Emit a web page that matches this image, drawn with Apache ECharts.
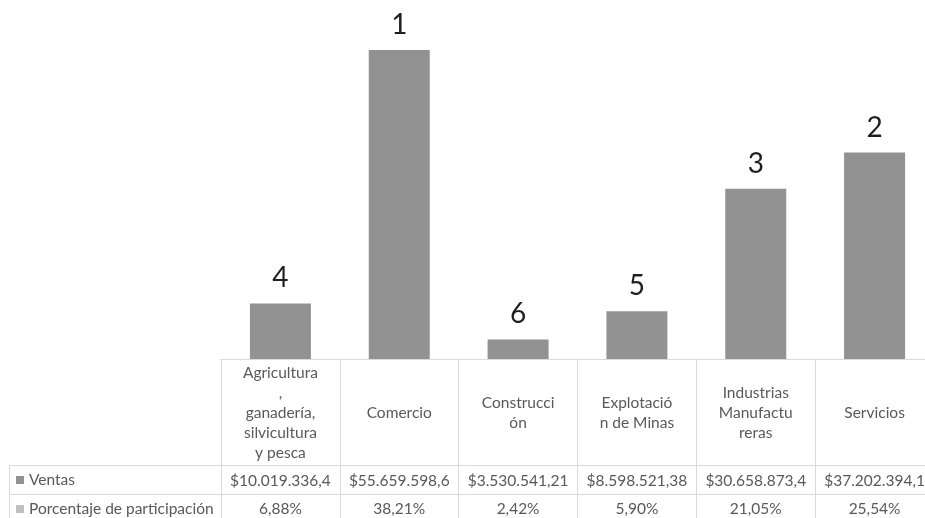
<!DOCTYPE html>
<html>
<head>
<meta charset="utf-8">
<script src="https://cdn.jsdelivr.net/npm/echarts@6/dist/echarts.min.js"></script>
<style>
html,body{margin:0;padding:0;background:#fff;}
#chart{width:925px;height:518px;}
</style>
</head>
<body>
<div id="chart"></div>
<script>
const categories = [
  "Agricultura\n,\nganadería,\nsilvicultura\ny pesca",
  "Comercio",
  "Construcci\nón",
  "Explotació\nn de Minas",
  "Industrias\nManufactu\nreras",
  "Servicios"
];
const ventas = [10019336.4, 55659598.6, 3530541.21, 8598521.38, 30658873.4, 37202394.1];
const porcentaje = [6.88, 38.21, 2.42, 5.90, 21.05, 25.54];
const ranking = [4, 1, 6, 5, 3, 2];

function fmtVentas(v) {
  const s = String(v).split('.');
  const intPart = s[0].replace(/\B(?=(\d{3})+(?!\d))/g, '.');
  return '$' + intPart + (s[1] ? ',' + s[1] : '');
}
function fmtPct(v) {
  return v.toFixed(2).replace('.', ',') + '%';
}
const ventasLabels = ventas.map(fmtVentas);
const pctLabels = porcentaje.map(fmtPct);

const lineColor = '#d9d9d9';
const textColor = '#595959';
const fontFamily = 'Lato';
const tableFont = 15.5;

const chart = echarts.init(document.getElementById('chart'), null, {renderer: 'canvas'});
chart.setOption({
  animation: false,
  backgroundColor: '#ffffff',
  grid: {left: 221, width: 713, top: 26, height: 333, outerBoundsMode: 'none', containLabel: false},
  legend: {
    orient: 'vertical',
    left: 16,
    top: 472,
    height: 80,
    padding: 0,
    itemWidth: 8,
    itemHeight: 8,
    itemGap: 13,
    icon: 'rect',
    textStyle: {color: textColor, fontSize: tableFont, fontFamily: fontFamily, lineHeight: 16},
    data: ['Ventas', 'Porcentaje de participación']
  },
  xAxis: [
    {
      type: 'category',
      data: categories,
      position: 'bottom',
      axisLine: {show: true, lineStyle: {color: lineColor, width: 1}},
      axisTick: {show: true, length: 170, lineStyle: {color: lineColor, width: 1}},
      axisLabel: {interval: 0, margin: 53.5, verticalAlign: 'middle', lineHeight: 20,
        color: textColor, fontSize: tableFont, fontFamily: fontFamily}
    },
    {
      type: 'category',
      data: ventasLabels,
      position: 'bottom',
      offset: 107,
      axisLine: {show: false},
      axisTick: {show: false},
      axisLabel: {interval: 0, margin: 14.5, verticalAlign: 'middle',
        color: textColor, fontSize: tableFont, fontFamily: fontFamily}
    },
    {
      type: 'category',
      data: pctLabels,
      position: 'bottom',
      offset: 135,
      axisLine: {show: false},
      axisTick: {show: false},
      axisLabel: {interval: 0, margin: 15, verticalAlign: 'middle',
        color: textColor, fontSize: tableFont, fontFamily: fontFamily}
    }
  ],
  yAxis: {type: 'value', min: 0, max: 60000000, show: false},
  graphic: [
    {type: 'line', shape: {x1: 9.5, y1: 465.5, x2: 925, y2: 465.5}, style: {stroke: lineColor, lineWidth: 1}, silent: true},
    {type: 'line', shape: {x1: 9.5, y1: 494.5, x2: 925, y2: 494.5}, style: {stroke: lineColor, lineWidth: 1}, silent: true},
    {type: 'line', shape: {x1: 9.5, y1: 465.5, x2: 9.5, y2: 530}, style: {stroke: lineColor, lineWidth: 1}, silent: true}
  ],
  series: [
    {
      name: 'Ventas',
      type: 'bar',
      xAxisIndex: 0,
      data: ventas,
      barWidth: 61,
      barGap: '-100%',
      itemStyle: {color: '#929292'},
      label: {
        show: true,
        position: 'top',
        distance: 11,
        fontSize: 28,
        fontFamily: fontFamily,
        color: '#1f1f1f',
        formatter: p => String(ranking[p.dataIndex])
      }
    },
    {
      name: 'Porcentaje de participación',
      type: 'bar',
      xAxisIndex: 0,
      data: porcentaje,
      barWidth: 61,
      barGap: '-100%',
      itemStyle: {color: '#bfbfbf'}
    }
  ]
});
</script>
</body>
</html>
